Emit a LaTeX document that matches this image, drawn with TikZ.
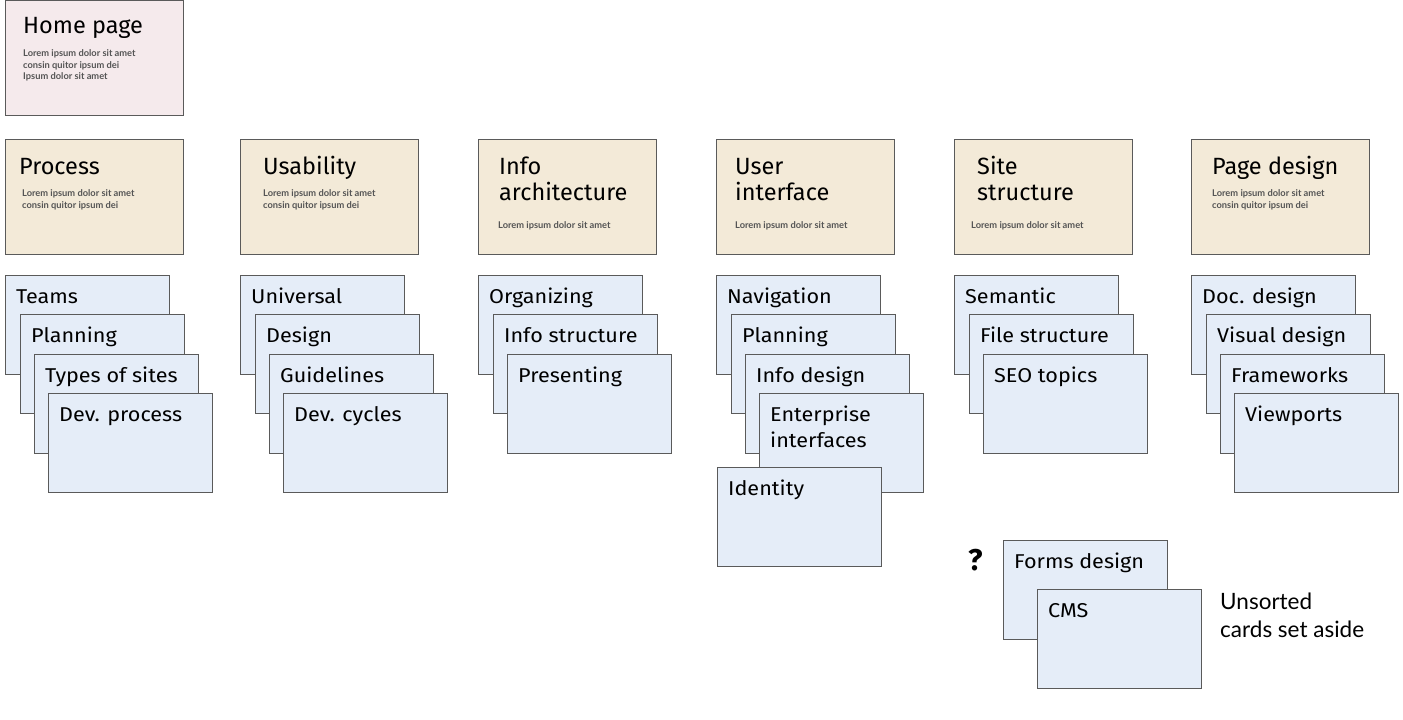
\documentclass[tikz,border=0pt]{standalone}
\usepackage{fontspec}
\setmainfont{Fira Sans}
\newfontfamily\widefont[FakeStretch=1.08]{Fira Sans}
\newfontfamily\lorfont{Lato}
\definecolor{edgec}{HTML}{5A5A5A}
\definecolor{homefill}{HTML}{F5EAEC}
\definecolor{catfill}{HTML}{F3EAD8}
\definecolor{subfill}{HTML}{E5EDF8}
\definecolor{lorc}{HTML}{555555}
\tikzset{
  cardbase/.style={draw=edgec, line width=0.9pt, anchor=north west, inner sep=0pt, minimum width=178pt, minimum height=115pt},
  homecard/.style={cardbase, fill=homefill},
  catcard/.style={cardbase, fill=catfill},
  subcard/.style={draw=edgec, line width=0.9pt, anchor=north west, inner sep=0pt, minimum width=164pt, minimum height=99pt, fill=subfill},
  cattitle/.style={anchor=base west, inner sep=0pt, font=\fontsize{23.5}{26}\selectfont},
  subtitle/.style={anchor=base west, inner sep=0pt, font=\widefont\fontsize{20}{22}\selectfont},
  lorem/.style={anchor=base west, inner sep=0pt, text=lorc, font=\lorfont\bfseries\fontsize{9.3}{10}\selectfont},
  note/.style={anchor=base west, inner sep=0pt, font=\lorfont\fontsize{22.5}{24}\selectfont},
}
\newcommand{\subc}[4]{%
  \node[subcard] (#1) at (#2,#3) {};
  \node[subtitle] (#1t) at ([xshift=11pt,yshift=-28pt]#1.north west) {#4};}
\begin{document}
\begin{tikzpicture}[x=1pt,y=-1pt]
\useasboundingbox (0,0) rectangle (1403,720);
% home
\node[homecard] (home) at (5,0) {};
\node[cattitle] (homet) at ([xshift=18pt,yshift=-33pt]home.north west) {Home page};
\node[lorem] (homel1) at ([xshift=18pt,yshift=-56pt]home.north west) {Lorem ipsum dolor sit amet};
\node[lorem] (homel2) at ([xshift=18pt,yshift=-68pt]home.north west) {consin quitor ipsum dei};
\node[lorem] (homel3) at ([xshift=18pt,yshift=-79pt]home.north west) {Ipsum dolor sit amet};
% categories
\node[catcard] (proc) at (5,139) {};
\node[cattitle] (proct) at ([xshift=14pt,yshift=-35pt]proc.north west) {Process};
\node[lorem] (procl1) at ([xshift=17pt,yshift=-57pt]proc.north west) {Lorem ipsum dolor sit amet};
\node[lorem] (procl2) at ([xshift=17pt,yshift=-69pt]proc.north west) {consin quitor ipsum dei};
\node[catcard] (usab) at (240,139) {};
\node[cattitle] (usabt) at ([xshift=23pt,yshift=-35pt]usab.north west) {Usability};
\node[lorem] (usabl1) at ([xshift=23pt,yshift=-57pt]usab.north west) {Lorem ipsum dolor sit amet};
\node[lorem] (usabl2) at ([xshift=23pt,yshift=-69pt]usab.north west) {consin quitor ipsum dei};
\node[catcard] (info) at (478,139) {};
\node[cattitle] (infot1) at ([xshift=21pt,yshift=-35pt]info.north west) {Info};
\node[cattitle] (infot2) at ([xshift=21pt,yshift=-61pt]info.north west) {architecture};
\node[lorem] (infol1) at ([xshift=20pt,yshift=-89pt]info.north west) {Lorem ipsum dolor sit amet};
\node[catcard] (ui) at (716,139) {};
\node[cattitle] (uit1) at ([xshift=19pt,yshift=-35pt]ui.north west) {User};
\node[cattitle] (uit2) at ([xshift=19pt,yshift=-61pt]ui.north west) {interface};
\node[lorem] (uil1) at ([xshift=19pt,yshift=-89pt]ui.north west) {Lorem ipsum dolor sit amet};
\node[catcard] (site) at (954,139) {};
\node[cattitle] (sitet1) at ([xshift=23pt,yshift=-35pt]site.north west) {Site};
\node[cattitle] (sitet2) at ([xshift=23pt,yshift=-61pt]site.north west) {structure};
\node[lorem] (sitel1) at ([xshift=17pt,yshift=-89pt]site.north west) {Lorem ipsum dolor sit amet};
\node[catcard] (page) at (1191,139) {};
\node[cattitle] (paget) at ([xshift=21pt,yshift=-35pt]page.north west) {Page design};
\node[lorem] (pagel1) at ([xshift=21pt,yshift=-57pt]page.north west) {Lorem ipsum dolor sit amet};
\node[lorem] (pagel2) at ([xshift=21pt,yshift=-69pt]page.north west) {consin quitor ipsum dei};
% process column
\subc{teams}{5}{275}{Teams}
\subc{plan}{20}{314}{Planning}
\subc{types}{34}{354}{Types of sites}
\subc{devp}{48}{393}{Dev. process}
% usability column
\subc{univ}{240}{275}{Universal}
\subc{desg}{255}{314}{Design}
\subc{guid}{269}{354}{Guidelines}
\subc{devc}{283}{393}{Dev. cycles}
% info architecture column
\subc{orga}{478}{275}{Organizing}
\subc{infs}{493}{314}{Info structure}
\subc{pres}{507}{354}{Presenting}
% user interface column
\subc{navi}{716}{275}{Navigation}
\subc{plan2}{731}{314}{Planning}
\subc{infd}{745}{354}{Info design}
\subc{entr}{759}{393}{Enterprise}
\node[subtitle] (entrt2) at ([xshift=11pt,yshift=-54pt]entr.north west) {interfaces};
\subc{iden}{717}{467}{Identity}
% site structure column
\subc{sema}{954}{275}{Semantic}
\subc{file}{969}{314}{File structure}
\subc{seo}{983}{354}{SEO topics}
% page design column
\subc{docd}{1191}{275}{Doc. design}
\subc{visd}{1206}{314}{Visual design}
\subc{fram}{1220}{354}{Frameworks}
\subc{view}{1234}{393}{Viewports}
% unsorted
\subc{form}{1003}{540}{Forms design}
\subc{cms}{1037}{589}{CMS}
\node[anchor=base west, inner sep=0pt, font=\bfseries\fontsize{30}{34}\selectfont] (qm) at (968,570) {?};
\node[note] (un1) at (1220,609) {Unsorted};
\node[note] (un2) at (1220,637) {cards set aside};
\end{tikzpicture}
\end{document}
